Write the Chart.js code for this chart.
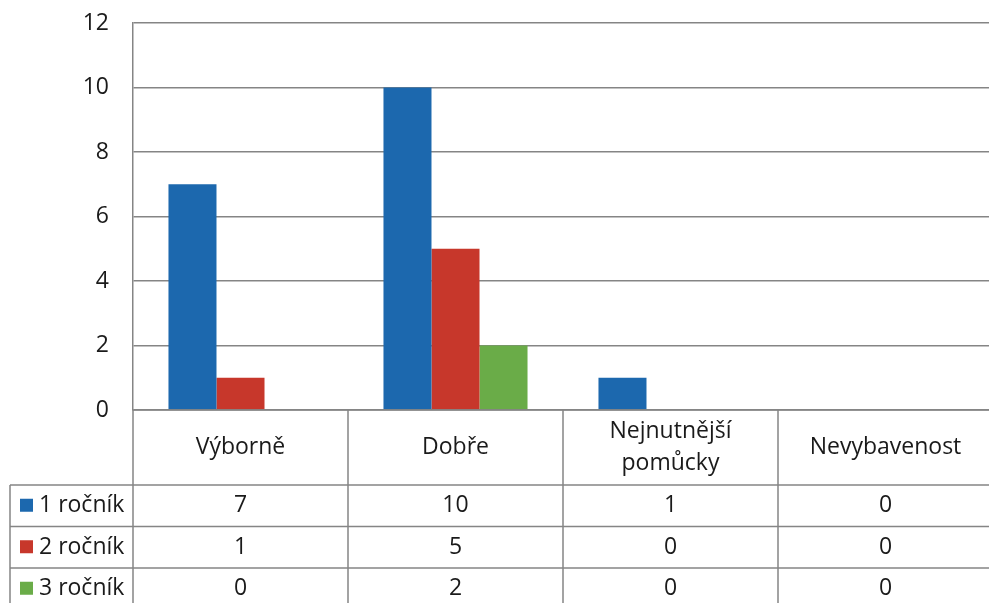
<!DOCTYPE html>
<html>
<head>
<meta charset="utf-8">
<script src="https://cdn.jsdelivr.net/npm/chart.js@4"></script>
<style>
  html, body { margin: 0; padding: 0; background: #fff; overflow: hidden; }
  #wrap { width: 989px; height: 603px; overflow: hidden; position: relative; }
  canvas { display: block; }
</style>
</head>
<body>
<div id="wrap"><canvas id="chart" width="1000" height="603"></canvas></div>
<script>
// Data
const categories = ['Výborně', 'Dobře', ['Nejnutnější', 'pomůcky'], 'Nevybavenost'];
const seriesNames = ['1 ročník', '2 ročník', '3 ročník'];
const rocnik1 = [7, 10, 1, 0];
const rocnik2 = [1, 5, 0, 0];
const rocnik3 = [0, 2, 0, 0];
const yMax = 12;
const yStep = 2;

const colors = ['#1c68ae', '#c7372b', '#6aac48'];
const lineColor = '#858585';
const textColor = '#1a1a1a';
const font = '"Open Sans", "Noto Sans", sans-serif';
const fontSize = 23;

// Tabulka pod grafem
const dataTable = {
    id: 'dataTable',
    afterDraw(chart) {
        const ctx = chart.ctx;
        const area = chart.chartArea;
        const x = chart.scales.x;
        const colW = x.width / categories.length;
        const headerBottom = area.bottom + 75;
        const rowH = 41.5;
        const rows = [rocnik1, rocnik2, rocnik3];
        const tableBottom = headerBottom + rowH * rows.length;

        ctx.save();
        ctx.strokeStyle = lineColor;
        ctx.lineWidth = 1.5;

        // svislé čáry
        ctx.beginPath();
        ctx.moveTo(area.left, area.bottom);
        ctx.lineTo(area.left, tableBottom);
        for (let i = 1; i <= categories.length; i++) {
            const xx = area.left + colW * i;
            ctx.moveTo(xx, area.bottom);
            ctx.lineTo(xx, tableBottom);
        }
        ctx.moveTo(10, headerBottom);
        ctx.lineTo(10, tableBottom);
        // vodorovné čáry
        ctx.moveTo(area.left, area.bottom);
        ctx.lineTo(area.right, area.bottom);
        for (let r = 0; r <= rows.length; r++) {
            const yy = headerBottom + rowH * r;
            ctx.moveTo(10, yy);
            ctx.lineTo(area.right, yy);
        }
        ctx.stroke();

        ctx.fillStyle = textColor;
        ctx.font = fontSize + 'px ' + font;
        ctx.textAlign = 'center';
        ctx.textBaseline = 'middle';

        // záhlaví
        categories.forEach((label, i) => {
            const cx = x.getPixelForValue(i);
            const lines = Array.isArray(label) ? label : [label];
            const mid = (area.bottom + headerBottom) / 2;
            const lh = 32;
            lines.forEach((t, j) => {
                ctx.fillText(t, cx, mid + (j - (lines.length - 1) / 2) * lh);
            });
        });

        // řádky s hodnotami
        rows.forEach((values, r) => {
            const cy = headerBottom + rowH * r + rowH / 2;
            ctx.fillStyle = colors[r];
            ctx.fillRect(20, cy - 7, 13, 13);
            ctx.fillStyle = textColor;
            ctx.textAlign = 'left';
            ctx.fillText(seriesNames[r], 39, cy);
            ctx.textAlign = 'center';
            values.forEach((v, i) => {
                ctx.fillText(String(v), x.getPixelForValue(i), cy);
            });
        });
        ctx.restore();
    }
};

new Chart(document.getElementById('chart'), {
    type: 'bar',
    data: {
        labels: categories,
        datasets: [
            { label: seriesNames[0], data: rocnik1, backgroundColor: colors[0] },
            { label: seriesNames[1], data: rocnik2, backgroundColor: colors[1] },
            { label: seriesNames[2], data: rocnik3, backgroundColor: colors[2] }
        ]
    },
    options: {
        responsive: false,
        animation: false,
        layout: { padding: { top: 23, right: 7, bottom: 193, left: 0 } },
        datasets: {
            bar: { categoryPercentage: 0.67, barPercentage: 1.0, borderWidth: 0 }
        },
        plugins: {
            legend: { display: false },
            tooltip: { enabled: false }
        },
        scales: {
            x: {
                display: false
            },
            y: {
                min: 0,
                max: yMax,
                afterFit(scale) {
                    scale.width = 133;
                    scale.paddingTop = 0;
                    scale.paddingBottom = 0;
                },
                ticks: {
                    stepSize: yStep,
                    padding: 24,
                    color: textColor,
                    font: { family: font, size: fontSize }
                },
                grid: { color: lineColor, lineWidth: 1.5, drawTicks: false },
                border: { display: true, color: lineColor, width: 1.5 }
            }
        }
    },
    plugins: [dataTable]
});
</script>
</body>
</html>
